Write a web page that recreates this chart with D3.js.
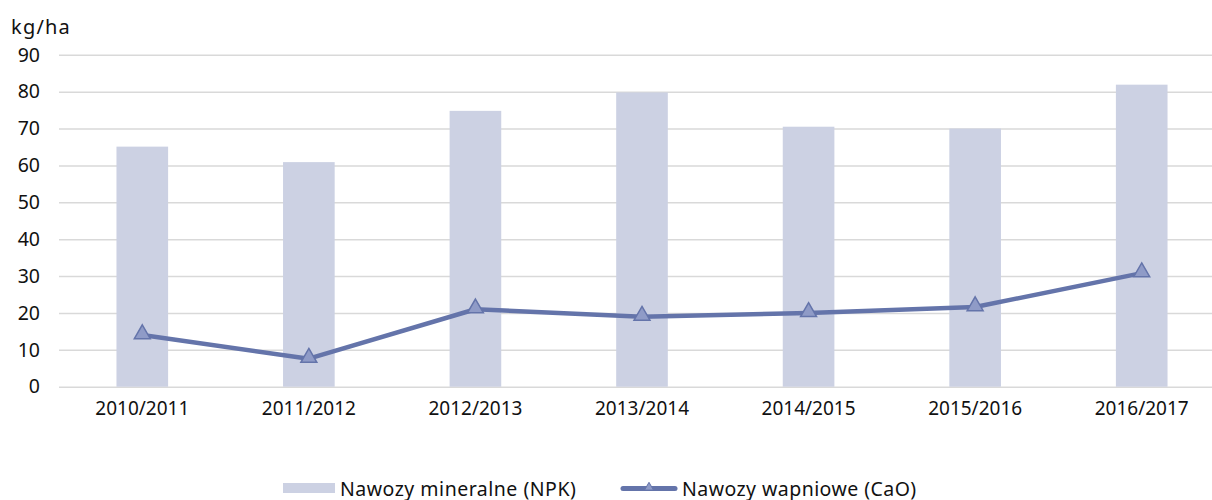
<!DOCTYPE html>
<html>
<head>
<meta charset="utf-8">
<script src="https://cdn.jsdelivr.net/npm/d3@7"></script>
<style>
  body { margin: 0; background: #fff; }
  text { font-family: "Noto Sans", sans-serif; fill: #111; }
</style>
</head>
<body>
<div class="canvas"></div>
<script>
const seasons = ["2010/2011", "2011/2012", "2012/2013", "2013/2014", "2014/2015", "2015/2016", "2016/2017"];
const npk = [65.1, 60.9, 74.8, 79.8, 70.5, 70.0, 81.9];
const cao = [14.0, 7.6, 21.0, 19.0, 20.0, 21.6, 30.8];
const yTicks = [0, 10, 20, 30, 40, 50, 60, 70, 80, 90];
const seriesNames = ["Nawozy mineralne (NPK)", "Nawozy wapniowe (CaO)"];

const dims = { w: 1212, h: 500 };
const plot = { left: 59, right: 1225, top: 54.8, bottom: 386.7 };
const colours = { bar: "#ccd1e3", line: "#6474aa", marker: "#8f9bc7", grid: "#d9d9d9" };

const svg = d3
  .select(".canvas")
  .append("svg")
  .attr("width", dims.w)
  .attr("height", dims.h);

const x = d3
  .scaleBand()
  .domain(seasons)
  .range([plot.left, plot.right])
  .paddingInner(0.69)
  .paddingOuter(0.345);

const y = d3
  .scaleLinear()
  .domain([0, 90])
  .range([plot.bottom, plot.top]);

// gridlines + y labels
const yAxis = svg
  .append("g")
  .attr("transform", `translate(${plot.left}, 0)`)
  .call(d3.axisLeft(y).tickValues(yTicks).tickSize(-(plot.right - plot.left)).tickPadding(19));
yAxis.select(".domain").remove();
yAxis.selectAll("line").attr("stroke", colours.grid).attr("stroke-width", 1.6);
yAxis.selectAll("text").attr("font-size", 19.5).attr("font-family", "Noto Sans").attr("fill", "#111");

svg
  .append("text")
  .attr("x", 11)
  .attr("y", 34)
  .attr("font-size", 20)
  .attr("letter-spacing", 1.2)
  .text("kg/ha");

// bars
svg
  .append("g")
  .selectAll("rect")
  .data(npk)
  .enter()
  .append("rect")
  .attr("x", (d, i) => x(seasons[i]))
  .attr("y", d => y(d))
  .attr("width", x.bandwidth())
  .attr("height", d => y(0) - y(d))
  .attr("fill", colours.bar);

// x labels
const xAxis = svg
  .append("g")
  .attr("transform", `translate(0, ${plot.bottom})`)
  .call(d3.axisBottom(x).tickSize(0).tickPadding(15));
xAxis.select(".domain").remove();
xAxis.selectAll("text").attr("font-size", 19).attr("font-family", "Noto Sans").attr("fill", "#111");

// line
const cx = i => x(seasons[i]) + x.bandwidth() / 2;
const line = d3
  .line()
  .x((d, i) => cx(i))
  .y(d => y(d));

svg
  .append("path")
  .datum(cao)
  .attr("d", line)
  .attr("fill", "none")
  .attr("stroke", colours.line)
  .attr("stroke-width", 4.5)
  .attr("stroke-linejoin", "round");

const tri = d3.symbol().type(d3.symbolTriangle).size(110);

svg
  .append("g")
  .selectAll("path")
  .data(cao)
  .enter()
  .append("path")
  .attr("d", tri)
  .attr("transform", (d, i) => `translate(${cx(i)}, ${y(d) - 1})`)
  .attr("fill", colours.marker)
  .attr("stroke", colours.line)
  .attr("stroke-width", 1.5);

// legend
const legend = svg.append("g");
legend
  .append("rect")
  .attr("x", 283)
  .attr("y", 483)
  .attr("width", 52)
  .attr("height", 10)
  .attr("fill", colours.bar);
legend
  .append("text")
  .attr("x", 340)
  .attr("y", 495.5)
  .attr("font-size", 19.5)
  .attr("letter-spacing", 0.5)
  .text(seriesNames[0]);
legend
  .append("line")
  .attr("x1", 623)
  .attr("x2", 675)
  .attr("y1", 488.5)
  .attr("y2", 488.5)
  .attr("stroke", colours.line)
  .attr("stroke-width", 5)
  .attr("stroke-linecap", "round");
legend
  .append("path")
  .attr("d", d3.symbol().type(d3.symbolTriangle).size(35))
  .attr("transform", "translate(649, 487.5)")
  .attr("fill", colours.marker)
  .attr("stroke", colours.line)
  .attr("stroke-width", 1);
legend
  .append("text")
  .attr("x", 682)
  .attr("y", 495.5)
  .attr("font-size", 19.5)
  .attr("letter-spacing", 0.45)
  .text(seriesNames[1]);
</script>
</body>
</html>
